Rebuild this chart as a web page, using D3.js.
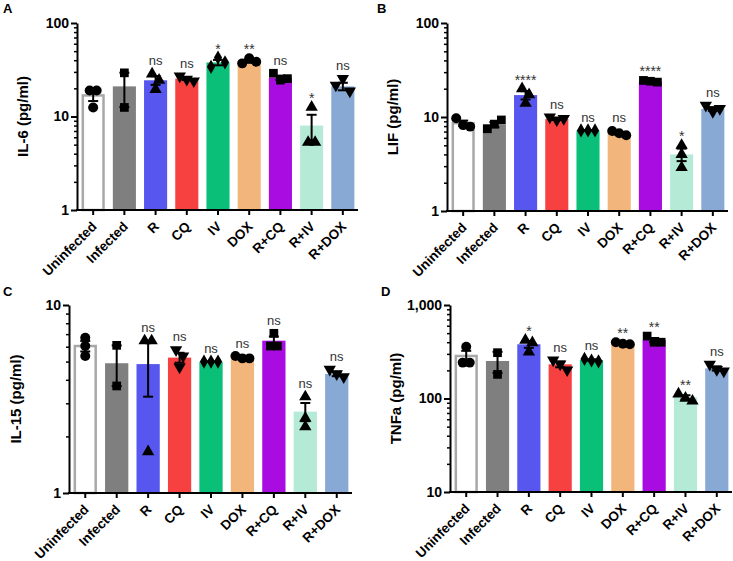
<!DOCTYPE html>
<html>
<head>
<meta charset="utf-8">
<script src="https://cdn.jsdelivr.net/npm/d3@7"></script>
<style>
  body { margin: 0; background: #fff; }
  text { font-family: Arial, "Liberation Sans", sans-serif; }
</style>
</head>
<body>
<script>
// ---------------- DATA ----------------
const groups = ["Uninfected", "Infected", "R", "CQ", "IV", "DOX", "R+CQ", "R+IV", "R+DOX"];
const barColors = ["#ffffff", "#7f7f7f", "#5757f0", "#f74141", "#0abf78", "#f2b57c", "#a80ce0", "#b5ead6", "#88a9d3"];
const shapes = ["circle", "square", "triangle", "triangleDown", "diamond", "circle", "square", "triangle", "triangleDown"];

// Panel A: IL-6
const il6Means = [16.8, 21, 24.4, 25.4, 37.8, 39, 26, 8.0, 21];
const il6Points = [[19, 12.5, 19], [29.3, 12.5], [19.5, 28.5, 24.5], [27, 25, 24], [34, 42.7, 38], [37, 42, 38.5], [29, 24.5, 25.4], [5.3, 12.6, 5.3], [21.6, 25.4, 18.7]];
const il6Sig = ["", "", "ns", "ns", "*", "**", "ns", "*", "ns"];
const il6Ticks = [1, 10, 100];
const il6TickLabels = ["1", "10", "100"];

// Panel B: LIF
const lifMeans = [8.6, 8.3, 17.1, 9.5, 7.2, 6.7, 24, 4.0, 12.2];
const lifPoints = [[9.7, 8.2, 7.9], [7.5, 8.4, 9.3], [14, 20, 17.3], [10, 9.3, 9.6], [7.2, 7.2, 7.2], [7.1, 6.7, 6.4], [24.5, 24, 23.5], [5.0, 2.9, 4.0], [13.3, 11.4, 12.3]];
const lifSig = ["", "", "****", "ns", "ns", "ns", "****", "*", "ns"];
const lifTicks = [1, 10, 100];
const lifTickLabels = ["1", "10", "100"];

// Panel C: IL-15
const il15Means = [6.05, 4.9, 4.85, 5.25, 5.0, 5.25, 6.46, 2.71, 4.3];
const il15Points = [[5.35, 6.7, 6.05], [6.1, 3.71], [6.45, 1.66, 6.45], [5.77, 5.35, 4.67], [5.0, 5.0, 5.0], [5.35, 5.2, 5.2], [7.07, 6.05, 6.05], [3.25, 2.5, 2.25], [4.55, 4.3, 4.15]];
const il15Sig = ["", "", "ns", "ns", "ns", "ns", "ns", "ns", "ns"];
const il15Ticks = [1, 10];
const il15TickLabels = ["1", "10"];

// Panel D: TNFa
const tnfMeans = [285, 252, 380, 232, 258, 389, 422, 103, 210];
const tnfPoints = [[242, 358, 242], [309, 181], [315, 420, 395], [258, 233, 202], [265, 255, 250], [400, 385, 380], [465, 400, 400], [112, 101, 94], [232, 204, 196]];
const tnfSig = ["", "", "*", "ns", "ns", "**", "**", "**", "ns"];
const tnfTicks = [10, 100, 1000];
const tnfTickLabels = ["10", "100", "1,000"];

// ---------------- LAYOUT ----------------
const panels = [
  { letter: "A", ylabel: "IL-6 (pg/ml)", means: il6Means, points: il6Points, sig: il6Sig, ticks: il6Ticks, tickLabels: il6TickLabels,
    axisLeft: 77, axisRight: 358, yTop: 23, yBottom: 210, letterX: 3, letterY: 13, labelX: 28 },
  { letter: "B", ylabel: "LIF (pg/ml)", means: lifMeans, points: lifPoints, sig: lifSig, ticks: lifTicks, tickLabels: lifTickLabels,
    axisLeft: 447, axisRight: 728, yTop: 23, yBottom: 211, letterX: 377, letterY: 13, labelX: 398 },
  { letter: "C", ylabel: "IL-15 (pg/ml)", means: il15Means, points: il15Points, sig: il15Sig, ticks: il15Ticks, tickLabels: il15TickLabels,
    axisLeft: 69, axisRight: 352, yTop: 305, yBottom: 493, letterX: 3, letterY: 296, labelX: 21 },
  { letter: "D", ylabel: "TNFa (pg/ml)", means: tnfMeans, points: tnfPoints, sig: tnfSig, ticks: tnfTicks, tickLabels: tnfTickLabels,
    axisLeft: 450, axisRight: 732, yTop: 305, yBottom: 492, letterX: 381, letterY: 296, labelX: 401 }
];

const svg = d3.select("body").append("svg").attr("width", 733).attr("height", 561);

function symbolPath(shape) {
  const map = {
    circle: [d3.symbolCircle, 78],
    square: [d3.symbolSquare, 76],
    triangle: [d3.symbolTriangle, 66],
    triangleDown: [d3.symbolTriangle, 66],
    diamond: [d3.symbolDiamond, 58]
  };
  const [type, size] = map[shape];
  return d3.symbol().type(type).size(size)();
}

function sem(arr) {
  const n = arr.length;
  if (n < 2) return 0;
  return d3.deviation(arr) / Math.sqrt(n);
}

function offsets(vals, y) {
  // cluster points whose pixel positions are close and spread them horizontally
  const idx = vals.map((v, i) => i).sort((a, b) => y(vals[a]) - y(vals[b]));
  const res = new Array(vals.length).fill(0);
  let clusters = [];
  let cur = [idx[0]];
  for (let k = 1; k < idx.length; k++) {
    if (Math.abs(y(vals[idx[k]]) - y(vals[idx[k - 1]])) < 8) cur.push(idx[k]);
    else { clusters.push(cur); cur = [idx[k]]; }
  }
  clusters.push(cur);
  clusters.forEach(c => {
    c.sort((a, b) => a - b);
    c.forEach((ii, j) => { res[ii] = (j - (c.length - 1) / 2) * 7; });
  });
  return res;
}

function drawPanel(p) {
  const domain = [p.ticks[0], p.ticks[p.ticks.length - 1]];
  const y = d3.scaleLog().domain(domain).range([p.yBottom, p.yTop]);
  const x = d3.scaleBand().domain(groups).range([p.axisLeft + 4, p.axisRight - 3])
    .paddingInner(0.26).paddingOuter(0.02);
  const g = svg.append("g");

  // bars
  g.selectAll("rect.bar").data(groups).join("rect")
    .attr("class", "bar")
    .attr("x", (d, i) => x(d) + (i === 0 ? 1.2 : 0))
    .attr("width", (d, i) => x.bandwidth() - (i === 0 ? 2.4 : 0))
    .attr("y", (d, i) => y(p.means[i]))
    .attr("height", (d, i) => y(domain[0]) - y(p.means[i]))
    .attr("fill", (d, i) => barColors[i])
    .attr("stroke", (d, i) => i === 0 ? "#a8a8a8" : "none")
    .attr("stroke-width", 2.5);

  // error bars (mean ± SEM)
  groups.forEach((gName, i) => {
    const cx = x(gName) + x.bandwidth() / 2;
    const s = sem(p.points[i]);
    const hi = p.means[i] + s;
    const lo = Math.max(p.means[i] - s, domain[0]);
    g.append("line").attr("x1", cx).attr("x2", cx).attr("y1", y(hi)).attr("y2", y(lo))
      .attr("stroke", "#000").attr("stroke-width", 2);
    [hi, lo].forEach(v => {
      g.append("line").attr("x1", cx - 5).attr("x2", cx + 5).attr("y1", y(v)).attr("y2", y(v))
        .attr("stroke", "#000").attr("stroke-width", 2);
    });
  });

  // points
  groups.forEach((gName, i) => {
    const cx = x(gName) + x.bandwidth() / 2;
    const vals = p.points[i];
    const off = offsets(vals, y);
    const path = symbolPath(shapes[i]);
    vals.forEach((v, j) => {
      g.append("path").attr("d", path)
        .attr("transform", `translate(${cx + off[j]},${y(v)})` + (shapes[i] === "triangleDown" ? " rotate(180)" : ""))
        .attr("fill", "#000");
    });
  });

  // significance labels
  groups.forEach((gName, i) => {
    if (!p.sig[i]) return;
    const cx = x(gName) + x.bandwidth() / 2;
    const topVal = Math.max(d3.max(p.points[i]), p.means[i] + sem(p.points[i]));
    const cy = y(topVal) - 12;
    const isNs = p.sig[i] === "ns";
    g.append("text")
      .attr("x", cx).attr("y", isNs ? cy + 3.5 : cy + 8)
      .attr("text-anchor", "middle")
      .attr("font-size", isNs ? 13 : 14)
      .attr("fill", "#333")
      .text(p.sig[i]);
  });

  // y axis: minor ticks
  const minors = [];
  for (let dec = domain[0]; dec < domain[1]; dec *= 10) {
    for (let m = 2; m <= 9; m++) minors.push(dec * m);
  }
  const yMinor = g.append("g").attr("transform", `translate(${p.axisLeft},0)`)
    .call(d3.axisLeft(y).tickValues(minors).tickSize(3).tickSizeOuter(0).tickFormat(""));
  yMinor.select(".domain").remove();
  yMinor.selectAll("line").attr("stroke-width", 1.5);

  const yMajor = g.append("g").attr("transform", `translate(${p.axisLeft},0)`)
    .call(d3.axisLeft(y).tickValues(p.ticks).tickSize(6).tickSizeOuter(0).tickPadding(2)
      .tickFormat((d, i) => p.tickLabels[i]));
  yMajor.select(".domain").attr("stroke-width", 2);
  yMajor.selectAll("line").attr("stroke-width", 2);
  yMajor.selectAll("text").attr("font-size", 14).attr("font-weight", "bold")
    .attr("font-family", "Arial, 'Liberation Sans', sans-serif").attr("fill", "#000");

  // x axis
  g.append("line").attr("x1", p.axisLeft - 1).attr("x2", p.axisRight)
    .attr("y1", p.yBottom).attr("y2", p.yBottom).attr("stroke", "#000").attr("stroke-width", 2);
  const xAx = g.append("g").attr("transform", `translate(0,${p.yBottom})`)
    .call(d3.axisBottom(x).tickSize(5).tickSizeOuter(0));
  xAx.select(".domain").remove();
  xAx.selectAll("line").attr("stroke-width", 2);
  xAx.selectAll("text")
    .attr("font-size", 13.5).attr("font-weight", "bold")
    .attr("font-family", "Arial, 'Liberation Sans', sans-serif").attr("fill", "#000")
    .attr("text-anchor", "end")
    .attr("y", 0).attr("dy", "0.35em")
    .attr("transform", "translate(1,14) rotate(-45)");

  // y label
  svg.append("text")
    .attr("transform", `translate(${p.labelX},${(p.yTop + p.yBottom) / 2}) rotate(-90)`)
    .attr("text-anchor", "middle")
    .attr("font-size", 15).attr("font-weight", "bold")
    .text(p.ylabel);

  // panel letter
  svg.append("text").attr("x", p.letterX).attr("y", p.letterY)
    .attr("font-size", 13).attr("font-weight", "bold").text(p.letter);
}

panels.forEach(drawPanel);
</script>
</body>
</html>
